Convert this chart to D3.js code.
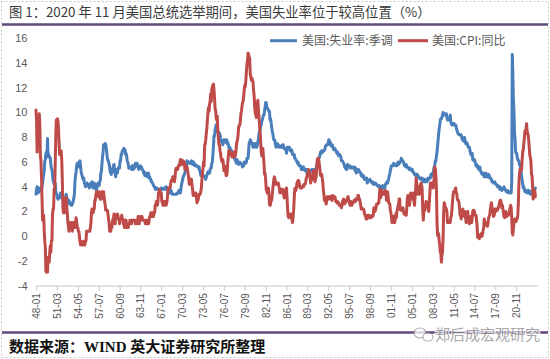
<!DOCTYPE html>
<html><head><meta charset="utf-8">
<script src="https://cdn.jsdelivr.net/npm/d3@7"></script>
<style>
html,body{margin:0;padding:0;background:#fff;}
svg{display:block;}
</style></head>
<body>
<svg id="chart" width="550" height="359"></svg>
<script>
// ---- data (monthly, from 1948-01) ----
const startYear = 1948;
const unemployment = [
3.4,3.8,4.0,3.9,3.5,3.6,3.6,3.9,3.8,3.7,3.8,4.0, // 1948
4.3,4.7,5.0,5.3,6.1,6.2,6.7,6.8,6.6,7.9,6.4,6.6,
6.5,6.4,6.3,5.8,5.5,5.4,5.0,4.5,4.4,4.2,4.2,4.3,
3.7,3.4,3.4,3.1,3.0,3.2,3.1,3.1,3.3,3.5,3.5,3.1,
3.2,3.1,2.9,2.9,3.0,3.0,3.2,3.4,3.1,3.0,2.8,2.7,
2.9,2.6,2.6,2.7,2.5,2.5,2.6,2.7,2.9,3.1,3.5,4.5,
4.9,5.2,5.7,5.9,5.9,5.6,5.8,6.0,6.1,5.7,5.3,5.0,
4.9,4.7,4.6,4.7,4.3,4.2,4.0,4.2,4.1,4.3,4.2,4.2,
4.0,3.9,4.2,4.0,4.3,4.3,4.4,4.1,3.9,3.9,4.3,4.2,
4.2,3.9,3.7,3.9,4.1,4.3,4.2,4.1,4.4,4.5,5.1,5.2,
5.8,6.4,6.7,7.4,7.4,7.3,7.5,7.4,7.1,6.7,6.2,6.2,
6.0,5.9,5.6,5.2,5.1,5.0,5.1,5.2,5.5,5.7,5.8,5.3,
5.2,4.8,5.4,5.2,5.1,5.4,5.5,5.6,5.5,6.1,6.1,6.6, // 1960
6.6,6.9,6.9,7.0,7.1,6.9,7.0,6.6,6.7,6.5,6.1,6.0,
5.8,5.5,5.6,5.6,5.5,5.5,5.4,5.7,5.6,5.4,5.7,5.5,
5.7,5.9,5.7,5.7,5.9,5.6,5.6,5.4,5.5,5.5,5.7,5.5,
5.6,5.4,5.4,5.3,5.1,5.2,4.9,5.0,5.1,5.1,4.8,5.0,
4.9,5.1,4.7,4.8,4.6,4.6,4.4,4.4,4.3,4.2,4.1,4.0,
4.0,3.8,3.8,3.8,3.9,3.8,3.8,3.8,3.7,3.7,3.6,3.8,
3.9,3.8,3.8,3.8,3.8,3.9,3.8,3.8,3.8,4.0,3.9,3.8,
3.7,3.8,3.7,3.5,3.5,3.7,3.7,3.5,3.4,3.4,3.4,3.4,
3.4,3.4,3.4,3.4,3.4,3.5,3.5,3.5,3.7,3.7,3.5,3.5,
3.9,4.2,4.4,4.6,4.8,4.9,5.0,5.1,5.4,5.5,5.9,6.1, // 1970
5.9,5.9,6.0,5.9,5.9,5.9,6.0,6.1,6.0,5.8,6.0,6.0,
5.8,5.7,5.8,5.7,5.7,5.7,5.6,5.6,5.5,5.6,5.3,5.2,
4.9,5.0,4.9,5.0,4.9,4.9,4.8,4.8,4.8,4.6,4.8,4.9,
5.1,5.2,5.1,5.1,5.1,5.4,5.5,5.5,5.9,6.0,6.6,7.2,
8.1,8.1,8.6,8.8,9.0,8.8,8.6,8.4,8.4,8.4,8.3,8.2,
7.9,7.7,7.6,7.7,7.4,7.6,7.8,7.8,7.6,7.7,7.8,7.8,
7.5,7.6,7.4,7.2,7.0,7.2,6.9,7.0,6.8,6.8,6.8,6.4,
6.4,6.3,6.3,6.1,6.0,5.9,6.2,5.9,6.0,5.8,5.9,6.0,
5.9,5.9,5.8,5.8,5.6,5.7,5.7,6.0,5.9,6.0,5.9,6.0,
6.3,6.3,6.3,6.9,7.5,7.6,7.8,7.7,7.5,7.5,7.5,7.2, // 1980
7.5,7.4,7.4,7.2,7.5,7.5,7.2,7.4,7.6,7.9,8.3,8.5,
8.6,8.9,9.0,9.3,9.4,9.6,9.8,9.8,10.1,10.4,10.8,10.8,
10.4,10.4,10.3,10.2,10.1,10.1,9.4,9.5,9.2,8.8,8.5,8.3,
8.0,7.8,7.8,7.7,7.4,7.2,7.5,7.5,7.3,7.4,7.2,7.3,
7.3,7.2,7.2,7.3,7.2,7.4,7.4,7.1,7.1,7.1,7.0,7.0,
6.7,7.2,7.2,7.1,7.2,7.2,7.0,6.9,7.0,7.0,6.9,6.6,
6.6,6.6,6.6,6.3,6.3,6.2,6.1,6.0,5.9,6.0,5.8,5.7,
5.7,5.7,5.7,5.4,5.6,5.4,5.4,5.6,5.4,5.4,5.3,5.3,
5.4,5.2,5.0,5.2,5.2,5.3,5.2,5.2,5.3,5.3,5.4,5.4,
5.4,5.3,5.2,5.4,5.4,5.2,5.5,5.7,5.9,5.9,6.2,6.3, // 1990
6.4,6.6,6.8,6.7,6.9,6.9,6.8,6.9,6.9,7.0,7.0,7.3,
7.3,7.4,7.4,7.4,7.6,7.8,7.7,7.6,7.6,7.3,7.4,7.4,
7.3,7.1,7.0,7.1,7.1,7.0,6.9,6.8,6.7,6.8,6.6,6.5,
6.6,6.6,6.5,6.4,6.1,6.1,6.1,6.0,5.9,5.8,5.6,5.5,
5.6,5.4,5.4,5.8,5.6,5.6,5.7,5.7,5.6,5.5,5.6,5.6,
5.6,5.5,5.5,5.6,5.6,5.3,5.5,5.1,5.2,5.2,5.4,5.4,
5.3,5.2,5.2,5.1,4.9,5.0,4.9,4.8,4.9,4.7,4.6,4.7,
4.6,4.6,4.7,4.3,4.4,4.5,4.5,4.5,4.6,4.5,4.4,4.4,
4.3,4.4,4.2,4.3,4.2,4.3,4.3,4.2,4.2,4.1,4.1,4.0,
4.0,4.1,4.0,3.8,4.0,4.0,4.0,4.1,3.9,3.9,3.9,3.9, // 2000
4.2,4.2,4.3,4.4,4.3,4.5,4.6,4.9,5.0,5.3,5.5,5.7,
5.7,5.7,5.7,5.9,5.8,5.8,5.8,5.7,5.7,5.7,5.9,6.0,
5.8,5.9,5.9,6.0,6.1,6.3,6.2,6.1,6.1,6.0,5.8,5.7,
5.7,5.6,5.8,5.6,5.6,5.6,5.5,5.4,5.4,5.5,5.4,5.4,
5.3,5.4,5.2,5.2,5.1,5.0,5.0,4.9,5.0,5.0,5.0,4.9,
4.7,4.8,4.7,4.7,4.6,4.6,4.7,4.7,4.5,4.4,4.5,4.4,
4.6,4.5,4.4,4.5,4.4,4.6,4.7,4.6,4.7,4.7,4.7,5.0,
5.0,4.9,5.1,5.0,5.4,5.6,5.8,6.1,6.1,6.5,6.8,7.3,
7.8,8.3,8.7,9.0,9.4,9.5,9.5,9.6,9.8,10.0,9.9,9.9,
9.8,9.8,9.9,9.9,9.6,9.4,9.4,9.5,9.5,9.4,9.8,9.3, // 2010
9.1,9.0,9.0,9.1,9.0,9.1,9.0,9.0,9.0,8.8,8.6,8.5,
8.3,8.3,8.2,8.2,8.2,8.2,8.2,8.0,7.8,7.8,7.7,7.9,
8.0,7.7,7.5,7.6,7.5,7.5,7.3,7.2,7.2,7.2,6.9,6.7,
6.6,6.7,6.7,6.2,6.3,6.1,6.2,6.1,5.9,5.7,5.8,5.6,
5.7,5.5,5.4,5.4,5.6,5.3,5.2,5.1,5.0,5.0,5.1,5.0,
4.8,4.9,5.0,5.1,4.8,4.9,4.8,4.9,5.0,4.9,4.7,4.7,
4.7,4.6,4.4,4.4,4.4,4.3,4.3,4.4,4.3,4.2,4.2,4.1,
4.0,4.1,4.0,4.0,3.8,4.0,3.8,3.8,3.7,3.8,3.8,3.9,
4.0,3.8,3.8,3.7,3.6,3.6,3.7,3.6,3.5,3.6,3.6,3.6,
3.5,3.5,4.4,14.7,13.2,11.0,10.2,8.4,7.9,6.9,6.7,6.7, // 2020
6.4,6.2,6.1,6.1,5.8,5.9,5.4,5.2,4.8,4.5,4.2,3.9,
4.0,3.8,3.6,3.7,3.6,3.6,3.5,3.7,3.5,3.7,3.6,3.5,
3.4,3.6,3.5,3.4,3.7,3.6,3.5,3.8,3.8,3.9 // 2023
];
const cpiYoY = [
10.2,9.4,6.8,8.7,9.3,9.4,9.9,8.9,6.5,6.1,4.8,3.0, // 1948
1.3,1.3,1.7,0.4,-0.4,-0.9,-2.8,-2.9,-2.6,-2.9,-1.7,-2.1,
-2.1,-1.3,-0.8,-1.3,-0.4,-0.4,1.7,2.2,2.2,3.8,3.8,5.9,
8.1,9.4,9.3,9.5,9.3,8.7,7.5,6.6,6.6,6.6,6.9,6.0,
4.3,2.3,1.9,2.3,1.9,2.3,3.1,3.1,2.3,1.9,1.1,0.8,
0.4,0.8,1.1,0.8,1.1,1.1,0.4,0.7,0.7,1.1,0.7,0.7,
1.1,1.5,1.1,0.8,0.7,0.4,0.4,0.0,-0.4,-0.7,-0.4,-0.7,
-0.7,-0.7,-0.7,-0.4,-0.7,-0.7,-0.4,-0.4,0.4,0.4,0.4,0.4,
0.4,0.4,0.4,0.7,1.1,1.9,2.2,1.9,1.9,2.2,2.2,2.9,
2.9,3.3,3.6,3.6,3.6,3.3,3.2,3.6,3.2,3.0,3.2,3.0,
3.6,3.2,3.6,3.6,3.2,2.8,2.5,2.1,2.1,2.1,2.1,1.8,
1.4,1.1,0.4,0.4,0.4,0.7,0.7,1.1,1.4,1.4,1.8,1.7,
1.0,1.7,1.4,1.7,1.8,1.7,1.4,1.4,1.0,1.4,1.4,1.4, // 1960
1.7,1.4,1.4,1.0,1.0,0.7,1.3,1.0,1.3,0.7,0.7,0.7,
0.7,1.0,1.0,1.3,1.3,1.3,1.0,1.3,1.3,1.3,1.3,1.3,
1.3,1.0,1.0,1.0,1.0,1.3,1.6,1.6,1.0,1.3,1.3,1.6,
1.6,1.6,1.3,1.3,1.3,1.3,1.3,1.0,1.3,1.0,1.3,1.0,
1.0,1.0,1.3,1.6,1.6,1.9,1.6,1.9,1.6,1.9,1.6,1.9,
1.9,2.5,2.5,2.8,2.8,2.5,2.8,3.5,3.5,3.8,3.5,3.5,
3.5,2.8,2.8,2.5,2.8,2.8,2.8,2.5,2.8,2.5,2.7,3.0,
3.6,3.9,3.9,3.9,3.9,4.2,4.5,4.5,4.5,4.8,4.8,4.7,
4.4,4.7,5.3,5.5,5.5,5.5,5.4,5.7,5.7,5.7,6.0,6.2,
6.2,6.1,5.8,6.1,6.1,6.0,6.0,5.4,5.7,5.7,5.6,5.6, // 1970
5.3,5.0,4.7,4.2,4.4,4.6,4.4,4.6,4.1,3.8,3.3,3.3,
3.3,3.5,3.5,3.5,3.2,2.7,2.9,2.9,3.2,3.4,3.4,3.4,
3.6,3.9,4.6,5.1,5.5,6.0,5.7,7.4,7.4,7.8,8.3,8.7,
9.4,10.0,10.4,10.1,10.7,10.9,11.5,10.9,11.9,12.1,12.2,12.3,
11.8,11.2,10.3,10.2,9.5,9.4,9.7,8.6,7.9,7.4,7.4,6.9,
6.7,6.3,6.1,6.0,6.2,5.9,5.3,5.7,5.5,5.5,4.9,4.9,
5.2,5.9,6.4,6.9,6.7,6.9,6.7,6.6,6.6,6.4,6.7,6.7,
6.8,6.4,6.6,6.5,6.9,7.4,7.7,7.8,8.3,8.9,8.9,9.0,
9.3,9.9,10.1,10.5,10.8,10.9,11.3,11.8,12.2,12.1,12.6,13.3,
13.9,14.2,14.8,14.7,14.4,14.4,13.1,12.9,12.6,12.8,12.6,12.5, // 1980
11.8,11.4,10.5,10.0,9.8,9.6,10.8,10.8,11.0,10.1,9.6,8.9,
8.4,7.6,6.8,6.5,6.7,7.1,6.4,5.9,5.0,5.1,4.6,3.8,
3.7,3.5,3.6,3.9,3.5,2.6,2.5,2.6,2.9,2.9,3.3,3.8,
4.2,4.6,4.8,4.6,4.2,4.2,4.2,4.3,4.3,4.3,4.1,3.9,
3.5,3.5,3.7,3.7,3.8,3.8,3.6,3.3,3.1,3.2,3.5,3.8,
3.9,3.1,2.2,1.6,1.5,1.8,1.6,1.6,1.8,1.5,1.3,1.1,
1.5,2.1,3.0,3.8,3.9,3.7,3.9,4.3,4.4,4.5,4.5,4.4,
4.0,3.9,3.9,3.9,3.9,4.0,4.1,4.0,4.2,4.2,4.2,4.4,
4.7,4.8,5.0,5.1,5.4,5.2,5.0,4.7,4.3,4.5,4.7,4.6,
5.2,5.3,5.2,4.7,4.4,4.7,4.8,5.6,6.2,6.3,6.3,6.1, // 1990
5.7,5.3,4.9,4.9,5.0,4.7,4.4,3.8,3.4,2.9,3.0,3.1,
2.6,2.8,3.2,3.2,3.0,3.1,3.2,3.1,3.0,3.2,3.0,2.9,
3.3,3.2,3.1,3.2,3.2,3.0,2.8,2.8,2.7,2.8,2.7,2.7,
2.5,2.5,2.5,2.4,2.3,2.5,2.8,2.9,3.0,2.6,2.7,2.7,
2.8,2.9,2.9,3.1,3.2,3.0,2.8,2.6,2.5,2.8,2.6,2.5,
2.7,2.7,2.8,2.9,2.9,2.8,3.0,2.9,3.0,3.0,3.3,3.3,
3.0,3.0,2.8,2.5,2.2,2.3,2.2,2.2,2.2,2.1,1.8,1.7,
1.6,1.4,1.4,1.4,1.7,1.7,1.7,1.6,1.5,1.5,1.5,1.6,
1.7,1.6,1.7,2.3,2.1,2.0,2.1,2.3,2.6,2.6,2.6,2.7,
2.7,3.2,3.8,3.1,3.2,3.7,3.7,3.4,3.5,3.4,3.4,3.4, // 2000
3.7,3.5,2.9,3.3,3.6,3.2,2.7,2.7,2.6,2.1,1.9,1.6,
1.1,1.1,1.5,1.6,1.2,1.1,1.5,1.8,1.5,2.0,2.2,2.4,
2.6,3.0,3.0,2.2,2.1,2.1,2.1,2.2,2.3,2.0,1.8,1.9,
1.9,1.7,1.7,2.3,3.1,3.3,3.0,2.7,2.5,3.2,3.5,3.3,
3.0,3.0,3.1,3.5,2.8,2.5,3.2,3.6,4.7,4.3,3.5,3.4,
4.0,3.6,3.4,3.5,4.2,4.3,4.1,3.8,2.1,1.3,2.0,2.5,
2.1,2.4,2.8,2.6,2.7,2.7,2.4,2.0,2.8,3.5,4.3,4.1,
4.3,4.0,4.0,3.9,4.2,5.0,5.6,5.4,4.9,3.7,1.1,0.1,
0.0,0.2,-0.4,-0.7,-1.3,-1.4,-2.1,-1.5,-1.3,-0.2,1.8,2.7,
2.6,2.1,2.3,2.2,2.0,1.1,1.2,1.1,1.1,1.2,1.1,1.5, // 2010
1.6,2.1,2.7,3.2,3.6,3.6,3.6,3.8,3.9,3.5,3.4,3.0,
2.9,2.9,2.7,2.3,1.7,1.7,1.4,1.7,2.0,2.2,1.8,1.7,
1.6,2.0,1.5,1.1,1.4,1.8,2.0,1.5,1.2,1.0,1.2,1.5,
1.6,1.1,1.5,2.0,2.1,2.1,2.0,1.7,1.7,1.7,1.3,0.8,
-0.1,0.0,-0.1,-0.2,0.0,0.1,0.2,0.2,0.0,0.2,0.5,0.7,
1.4,1.0,0.9,1.1,1.0,1.0,0.8,1.1,1.5,1.6,1.7,2.1,
2.5,2.7,2.4,2.2,1.9,1.6,1.7,1.9,2.2,2.0,2.2,2.1,
2.1,2.2,2.4,2.5,2.8,2.9,2.9,2.7,2.3,2.5,2.2,1.9,
1.6,1.5,1.9,2.0,1.8,1.6,1.8,1.7,1.7,1.8,2.1,2.3,
2.5,2.3,1.5,0.3,0.1,0.6,1.0,1.3,1.4,1.2,1.2,1.4, // 2020
1.4,1.7,2.6,4.2,5.0,5.4,5.4,5.3,5.4,6.2,6.8,7.0,
7.5,7.9,8.5,8.3,8.6,9.1,8.5,8.3,8.2,7.7,7.1,6.5,
6.4,6.0,5.0,4.9,4.0,3.0,3.2,3.7,3.7,3.2 // 2023
];
const tickLabels = ["48-01","51-03","54-05","57-07","60-09","63-11","67-01","70-03","73-05","76-07","79-09","82-11",
  "86-01","89-03","92-05","95-07","98-09","01-11","05-01","08-03","11-05","14-07","17-09","20-11"];
const tickStep = 38; // months between labels
const yTicks = [-4,-2,0,2,4,6,8,10,12,14,16];
const seriesNames = ["美国:失业率:季调","美国:CPI:同比"];
const colors = ["#4a7ebb","#be4b48"];
const titleText = "图 1：2020 年 11 月美国总统选举期间，美国失业率位于较高位置（%）";
const sourceText = "数据来源：WIND  英大证券研究所整理";
const watermark = "郑后成宏观研究";

// ---- drawing ----
const svg = d3.select("#chart");
const W = 550, H = 359;

// dotted outer border
svg.append("rect").attr("x",1.5).attr("y",1.5).attr("width",W-3).attr("height",H-3)
  .attr("fill","none").attr("stroke","#c8c8c8").attr("stroke-width",1).attr("stroke-dasharray","2,2");

// title
svg.append("text").attr("x",9).attr("y",17).text(titleText)
  .attr("font-family","'Noto Sans CJK SC', sans-serif").attr("font-size",13.3).attr("fill","#3a3a3a");
// purple rules
svg.append("line").attr("x1",2).attr("x2",W-2).attr("y1",24.5).attr("y2",24.5).attr("stroke","#604a7b").attr("stroke-width",2.5);
svg.append("line").attr("x1",2).attr("x2",W-2).attr("y1",332.5).attr("y2",332.5).attr("stroke","#604a7b").attr("stroke-width",2.5);

const x = d3.scaleLinear().domain([0, 912]).range([36, 537]);
const y = d3.scaleLinear().domain([-4, 16]).range([285.7, 38.3]);

// y labels
svg.append("g").selectAll("text").data(yTicks).join("text")
  .attr("x",27.5).attr("y",d=>y(d)).attr("dy","0.35em").attr("text-anchor","end")
  .attr("font-family","'Liberation Sans', Arial, sans-serif").attr("font-size",11).attr("fill","#595959")
  .text(d=>d);

// x axis
const xAxis = d3.axisBottom(x)
  .tickValues(tickLabels.map((_,i)=>i*tickStep))
  .tickFormat((d,i)=>tickLabels[i])
  .tickSize(5).tickSizeOuter(0);
const gx = svg.append("g").attr("transform",`translate(0,${y(-4)})`).call(xAxis);
gx.select(".domain").attr("stroke","#d0d0d0").attr("stroke-width",1.2);
gx.selectAll(".tick line").attr("stroke","#d0d0d0").attr("stroke-width",1.2);
gx.selectAll(".tick text")
  .attr("font-family","'Liberation Sans', Arial, sans-serif").attr("font-size",10).attr("fill","#595959")
  .attr("transform","rotate(-90)").attr("text-anchor","end")
  .attr("x",-7.5).attr("y",0).attr("dy","0.35em");

// lines
const line = d3.line().x((d,i)=>x(i)).y(d=>y(d)).curve(d3.curveLinear);
[unemployment, cpiYoY].forEach((s,k)=>{
  svg.append("path").datum(s).attr("d",line).attr("fill","none")
    .attr("stroke",colors[k]).attr("stroke-width",3).attr("stroke-linejoin","round").attr("stroke-linecap","round");
});

// legend
const leg = [{x1:270,x2:297,tx:302},{x1:398,x2:428,tx:432}];
leg.forEach((l,k)=>{
  svg.append("line").attr("x1",l.x1).attr("x2",l.x2).attr("y1",40.7).attr("y2",40.7)
    .attr("stroke",colors[k]).attr("stroke-width",3);
  svg.append("text").attr("x",l.tx).attr("y",40.7).attr("dy","0.36em").text(seriesNames[k])
    .attr("font-family","'Noto Sans CJK SC', sans-serif").attr("font-size",12).attr("fill","#595959");
});

// source
svg.append("text").attr("x",9).attr("y",352).text(sourceText)
  .attr("font-family","'Liberation Serif', 'Noto Sans CJK SC', serif").attr("font-weight","bold")
  .attr("font-size",15).attr("fill","#111");

// watermark
const wm = svg.append("g").attr("opacity",0.75);
wm.append("ellipse").attr("cx",420).attr("cy",333).attr("rx",6).attr("ry",5)
  .attr("fill","#fff").attr("stroke","#999").attr("stroke-width",1.2);
wm.append("ellipse").attr("cx",428).attr("cy",337).attr("rx",5).attr("ry",4)
  .attr("fill","#fff").attr("stroke","#999").attr("stroke-width",1.2);
wm.append("text").attr("x",435).attr("y",339.5).text(watermark)
  .attr("font-family","'Noto Sans CJK SC', sans-serif").attr("font-size",15)
  .attr("fill","#8c8c8c").attr("stroke","#fff").attr("stroke-width",2.5).attr("paint-order","stroke");
</script>
</body></html>
